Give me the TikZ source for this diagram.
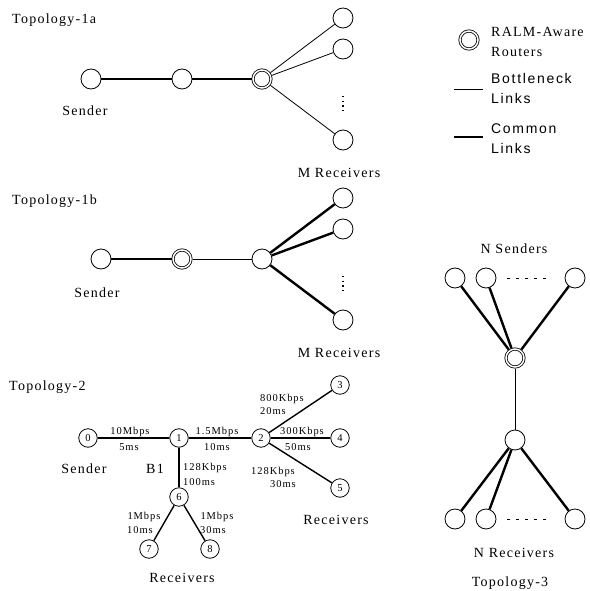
\documentclass[tikz,border=0pt]{standalone}
\usepackage{fontspec}
\setmainfont{Liberation Serif}[LetterSpace=9]
\setsansfont{Liberation Sans}[LetterSpace=12]

\begin{document}
\begin{tikzpicture}[x=1pt, y=-1pt,
	host/.style={circle, draw, line width=0.8pt, minimum size=20pt, inner sep=0pt},
	router/.style={host, double, double distance=1.5pt, minimum size=18pt, outer sep=1.5pt},
	numbered/.style={host, minimum size=18.5pt, font=\fontsize{10.5}{12}\selectfont},
	big/.style={font=\fontsize{14}{16}\selectfont, inner sep=0pt},
	small/.style={font=\fontsize{10.5}{12}\selectfont, inner sep=0pt},
	bottleneck/.style={line width=0.8pt},
	common/.style={line width=2.4pt},
	link/.style={line width=1.4pt},
	vdots/.style={line width=1.2pt, dash pattern=on 1.3pt off 3.4pt},
	hdots/.style={line width=1pt, dash pattern=on 3pt off 6pt}]

\useasboundingbox (0,0) rectangle (589,591);

% Topology-1a
\node[big, anchor=base west] (t1a) at (12,24) {Topology-1a};
\node[host] (a0) at (91,79) {};
\node[host] (a1) at (182,79) {};
\node[router] (ar) at (262,79) {};
\node[host] (am1) at (343,18) {};
\node[host] (am2) at (343,49) {};
\node[host] (am3) at (343,140) {};
\draw[common] (a0) -- (a1) -- (ar);
\draw[bottleneck] (ar) -- (am1);
\draw[bottleneck] (ar) -- (am2);
\draw[bottleneck] (ar) -- (am3);
\draw[vdots] (343,96) -- (343,114);
\node[big, anchor=base] (as) at (85,115) {Sender};
\node[big, anchor=base] (am) at (339,177) {M Receivers};

% Topology-1b
\node[big, anchor=base west] (t1b) at (12,204) {Topology-1b};
\node[host] (b0) at (101,259) {};
\node[router] (br) at (182,259) {};
\node[host] (b1) at (262,259) {};
\node[host] (bm1) at (343,198) {};
\node[host] (bm2) at (343,229) {};
\node[host] (bm3) at (343,320) {};
\draw[common] (b0) -- (br);
\draw[bottleneck] (br) -- (b1);
\draw[common] (b1) -- (bm1);
\draw[common] (b1) -- (bm2);
\draw[common] (b1) -- (bm3);
\draw[vdots] (343,276) -- (343,294);
\node[big, anchor=base] (bs) at (97,297) {Sender};
\node[big, anchor=base] (bm) at (339,357) {M Receivers};

% legend
\node[router] (key) at (469,40) {};
\node[big, anchor=base west] at (491,37) {RALM-Aware};
\node[big, anchor=base west] at (491,57) {Routers};
\draw[bottleneck] (454,89) -- (483,89);
\node[big, anchor=base west] at (491,84) {\sffamily Bottleneck};
\node[big, anchor=base west] at (491,104) {\sffamily Links};
\draw[common] (454,137) -- (483,137);
\node[big, anchor=base west] at (491,133) {\sffamily Common};
\node[big, anchor=base west] at (491,153) {\sffamily Links};

% Topology-2
\node[big, anchor=base west] (t2) at (9,390) {Topology-2};
\node[numbered] (n0) at (88,438) {0};
\node[numbered] (n1) at (179,438) {1};
\node[numbered] (n2) at (261,438) {2};
\node[numbered] (n3) at (340,385) {3};
\node[numbered] (n4) at (340,438) {4};
\node[numbered] (n5) at (340,488) {5};
\node[numbered] (n6) at (179,497) {6};
\node[numbered] (n7) at (149,549) {7};
\node[numbered] (n8) at (210,549) {8};
\draw[link] (n0) -- (n1) -- (n2) -- (n4);
\draw[link] (n2) -- (n3);
\draw[link] (n2) -- (n5);
\draw[link] (n1) -- (n6);
\draw[link] (n6) -- (n7);
\draw[link] (n6) -- (n8);
\node[small, anchor=base] at (130,434) {10Mbps};
\node[small, anchor=base] at (129,450) {5ms};
\node[small, anchor=base] at (217,434) {1.5Mbps};
\node[small, anchor=base] at (217,450) {10ms};
\node[small, anchor=base west] at (260,401) {800Kbps};
\node[small, anchor=base west] at (260,414) {20ms};
\node[small, anchor=base] at (302,434) {300Kbps};
\node[small, anchor=base] at (298,450) {50ms};
\node[small, anchor=base] at (273,474) {128Kbps};
\node[small, anchor=base] at (283,487) {30ms};
\node[small, anchor=base west] at (183,470) {128Kbps};
\node[small, anchor=base west] at (183,485) {100ms};
\node[small, anchor=base] at (144,519) {1Mbps};
\node[small, anchor=base] at (140,533) {10ms};
\node[small, anchor=base] at (217,519) {1Mbps};
\node[small, anchor=base] at (213,533) {30ms};
\node[big, anchor=base] (s2) at (84,473) {Sender};
\node[big, anchor=base] (b1l) at (155,473) {B1};
\node[big, anchor=base] (r2a) at (336,524) {Receivers};
\node[big, anchor=base] (r2b) at (182,582) {Receivers};

% Topology-3
\node[big, anchor=base] (ns) at (514,253) {N Senders};
\node[host] (s1) at (455,278) {};
\node[host] (s2) at (486,278) {};
\node[host] (s3) at (575,278) {};
\draw[hdots] (507,278) -- (550,278);
\node[router] (cr) at (515,358) {};
\node[host] (c1) at (515,440) {};
\node[host] (d1) at (455,519) {};
\node[host] (d2) at (486,519) {};
\node[host] (d3) at (575,519) {};
\draw[hdots] (507,519) -- (550,519);
\draw[common] (s1) -- (cr);
\draw[common] (s2) -- (cr);
\draw[common] (s3) -- (cr);
\draw[bottleneck] (cr) -- (c1);
\draw[common] (c1) -- (d1);
\draw[common] (c1) -- (d2);
\draw[common] (c1) -- (d3);
\node[big, anchor=base] (nr) at (514,557) {N Receivers};
\node[big, anchor=base] (t3) at (510,586) {Topology-3};

\end{tikzpicture}
\end{document}
